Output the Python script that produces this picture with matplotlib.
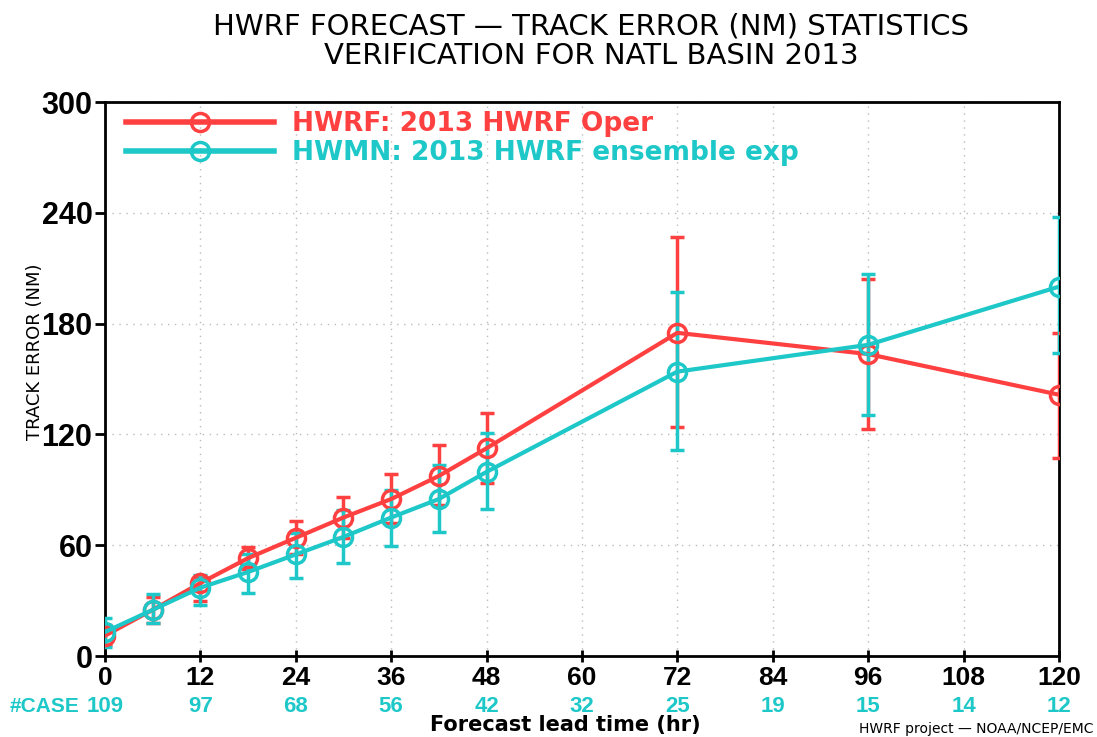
import numpy as np
import matplotlib
matplotlib.use("Agg")
from matplotlib import pyplot as plt
from matplotlib.lines import Line2D

# forecast lead times (hr)
lead = [0, 6, 12, 18, 24, 30, 36, 42, 48, 72, 96, 120]

# HWRF operational track error and error-bar limits
hwrf = [11, 25, 39.5, 53, 64, 75, 85, 97.5, 112.5, 175, 163.5, 141.5]
hwrf_hi = [17, 32, 43, 59, 73, 86, 98.5, 114, 131.5, 227, 204, 175]
hwrf_lo = [6, 18, 30, 47, 55, 64, 72, 82, 93.5, 124, 123, 107]

# HWMN ensemble track error and error-bar limits
hwmn = [13, 25, 37, 45.5, 55, 64.5, 75, 85, 99.7, 154, 168.5, 200]
hwmn_hi = [20.5, 33.5, 44, 55.5, 66.5, 79, 90, 103.5, 120.5, 197, 207, 237.5]
hwmn_lo = [5, 18, 27.5, 34, 42, 50.5, 59.5, 67, 79.5, 111.5, 130.5, 164]

xticks = [0, 12, 24, 36, 48, 60, 72, 84, 96, 108, 120]
ncase = [109, 97, 68, 56, 42, 32, 25, 19, 15, 14, 12]

labels = ["HWRF: 2013 HWRF Oper", "HWMN: 2013 HWRF ensemble exp"]
red = "#ff4040"
cyan = "#1ec8c8"
numfont = "Liberation Sans"

fig = plt.figure(figsize=(10.97, 7.37), dpi=100)
ax = fig.add_axes([0.0957, 0.1099, 0.8696, 0.7517])

def draw(y, lo, hi, col):
	y = np.array(y)
	err = [y - np.array(lo), np.array(hi) - y]
	ax.errorbar(lead, y, yerr=err, color=col, lw=3, marker="o", markersize=13,
		markerfacecolor="none", markeredgewidth=2.5, capsize=5, capthick=2.5,
		elinewidth=2.5, zorder=3)

draw(hwrf, hwrf_lo, hwrf_hi, red)
draw(hwmn, hwmn_lo, hwmn_hi, cyan)

ax.set_xlim(0, 120)
ax.set_ylim(0, 300)
ax.set_xticks(xticks)
ax.set_yticks(range(0, 301, 60))
ax.set_xticklabels([str(t) for t in xticks], fontsize=19, fontweight="bold",
	family=numfont)
ax.set_yticklabels([str(t) for t in range(0, 301, 60)], fontsize=22,
	fontweight="bold", family=numfont)
ax.tick_params(axis="y", direction="out", length=7, width=2, pad=2)
ax.tick_params(axis="x", direction="inout", length=8, width=2, pad=3)
for s in ax.spines.values():
	s.set_linewidth(2)
ax.grid(color="#bbbbbb", linestyle=(0, (1, 4)), linewidth=1)

handles = [Line2D([0], [0], color=c, lw=4, marker="o", markersize=13,
	markerfacecolor="none", markeredgewidth=2.5) for c in [red, cyan]]
leg = ax.legend(handles, labels, loc="upper left", bbox_to_anchor=(0.0165, 0.993),
	frameon=False, handlelength=5.6, fontsize=19, borderaxespad=0, borderpad=0.2,
	labelspacing=0.1, handletextpad=0.7)
for t, c in zip(leg.get_texts(), [red, cyan]):
	t.set_color(c)
	t.set_fontweight("bold")

ax.set_ylabel("TRACK ERROR (NM)", fontsize=13)
ax.yaxis.set_label_coords(-0.064, 0.549)

# number of cases row
for t, n in zip(xticks, ncase):
	ax.annotate(str(n), xy=(t, 0), xycoords="data", xytext=(0, -36),
		textcoords="offset points", ha="center", va="center", color=cyan,
		fontsize=16, fontweight="bold", family=numfont, annotation_clip=False)
fig.text(0.009, 1 - 706 / 737, "#CASE", color=cyan, fontsize=15, fontweight="bold",
	family=numfont, va="center", ha="left")

fig.text(0.515, 1 - 725 / 737, "Forecast lead time (hr)", ha="center", va="center",
	fontsize=15, fontweight="bold")
fig.text(0.997, 1 - 729 / 737, "HWRF project \u2014 NOAA/NCEP/EMC", ha="right",
	va="center", fontsize=10)

fig.text(0.539, 1 - 26 / 737, "HWRF FORECAST \u2014 TRACK ERROR (NM) STATISTICS",
	ha="center", va="center", fontsize=21)
fig.text(0.539, 1 - 56 / 737, "VERIFICATION FOR NATL BASIN 2013", ha="center",
	va="center", fontsize=21)

fig.savefig("out.png", dpi=100)
